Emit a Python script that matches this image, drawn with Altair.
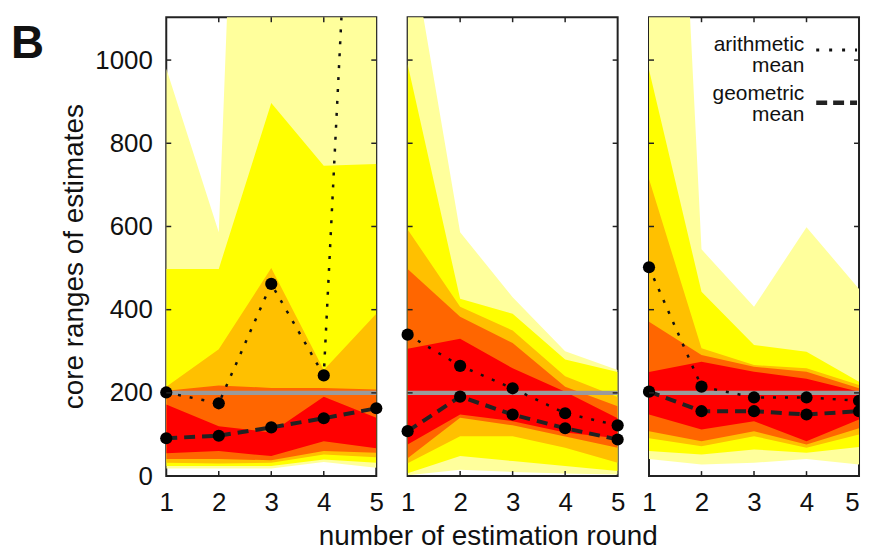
import altair as alt
import pandas as pd

rounds = [1, 2, 3, 4, 5]
band_names = ["pale", "yellow", "orange", "darkorange", "red"]
band_colors = ["#FFFF9C", "#FFFF00", "#FFC000", "#FF6600", "#FF0000"]
true_value = 200
y_ticks = [0, 200, 400, 600, 800, 1000]
inner_x_ticks = [2, 3, 4]
y_max = 1103

# ---- panel 1 ----
p1_pale_lo = [18, 18, 18, 34, 20]
p1_pale_hi = [980, 586, 3900, 4000, 4000]
p1_yellow_lo = [24, 24, 24, 40, 32]
p1_yellow_hi = [498, 498, 897, 746, 750]
p1_orange_lo = [32, 30, 32, 52, 45]
p1_orange_hi = [215, 305, 500, 255, 390]
p1_darkorange_lo = [41, 41, 38, 60, 56]
p1_darkorange_hi = [205, 218, 212, 212, 208]
p1_red_lo = [55, 60, 48, 84, 67]
p1_red_hi = [172, 120, 105, 191, 140]
p1_arith = [201, 175, 462, 242, 2800]
p1_geom = [91, 97, 117, 139, 163]

# ---- panel 2 ----
p2_pale_lo = [2, 15, 10, 6, 4]
p2_pale_hi = [1325, 586, 430, 300, 255]
p2_yellow_lo = [7, 48, 36, 24, 12]
p2_yellow_hi = [990, 426, 390, 280, 250]
p2_orange_lo = [31, 96, 96, 68, 32]
p2_orange_hi = [593, 407, 350, 240, 190]
p2_darkorange_lo = [43, 140, 122, 95, 68]
p2_darkorange_hi = [498, 383, 320, 215, 168]
p2_red_lo = [76, 148, 132, 105, 91]
p2_red_hi = [306, 330, 259, 203, 139]
p2_arith = [340, 265, 211, 151, 122]
p2_geom = [108, 191, 148, 115, 88]

# ---- panel 3 ----
p3_pale_lo = [41, 28, 32, 41, 28]
p3_pale_hi = [3100, 545, 407, 598, 450]
p3_yellow_lo = [60, 52, 64, 56, 70]
p3_yellow_hi = [977, 443, 315, 299, 227]
p3_orange_lo = [91, 72, 96, 68, 100]
p3_orange_hi = [714, 307, 267, 259, 219]
p3_darkorange_lo = [108, 84, 108, 76, 115]
p3_darkorange_hi = [371, 291, 263, 251, 211]
p3_red_lo = [148, 112, 132, 84, 136]
p3_red_hi = [250, 275, 251, 234, 203]
p3_arith = [502, 215, 189, 189, 181]
p3_geom = [203, 156, 156, 148, 156]

panel_label = "B"
y_title = "core ranges of estimates"
x_title = "number of estimation round"
legend_arith = ["arithmetic", "mean"]
legend_geom = ["geometric", "mean"]

FONT = "Liberation Sans"
W, H = 211, 461


def band_frame(lows, highs):
    rows = []
    for name, lo, hi in zip(band_names, lows, highs):
        for r, a, b in zip(rounds, lo, hi):
            rows.append({"round": r, "band": name, "lo": a, "hi": b})
    return pd.DataFrame(rows)


def mean_frame(arith, geom):
    rows = []
    for r, a, g in zip(rounds, arith, geom):
        rows.append({"round": r, "kind": "arith", "v": a})
        rows.append({"round": r, "kind": "geom", "v": g})
    return pd.DataFrame(rows)


def xenc(field="round:Q", last_right=False):
    if last_right:
        lab_align = {"condition": {"test": "datum.value == 5", "value": "right"},
                     "value": "center"}
    else:
        lab_align = "center"
    return alt.X(field, scale=alt.Scale(domain=[1, 5], nice=False, zero=False),
                 axis=alt.Axis(values=rounds, format="d", title=None, grid=False,
                               ticks=False, domain=False, labelFlush=False,
                               labelAlign=lab_align,
                               labelFontSize=26, labelFont=FONT, labelColor="#111",
                               labelPadding=14))


def yenc(field, show):
    if show:
        ax = alt.Axis(values=y_ticks, format="d", title=y_title, grid=False,
                      ticks=False, domain=False, labelFontSize=26, labelFont=FONT,
                      labelColor="#111", labelPadding=14, titleFontSize=28,
                      titleFont=FONT, titleFontWeight="normal", titleColor="#111",
                      titlePadding=6, titleY=240)
    else:
        ax = alt.Axis(values=y_ticks, title=None, grid=False, ticks=False,
                      domain=False, labels=False)
    return alt.Y(field, scale=alt.Scale(domain=[0, y_max], nice=False, zero=False), axis=ax)


def panel(lows, highs, arith, geom, show_y=False, extra=None, last_panel=False):
    bdf = band_frame(lows, highs)
    mdf = mean_frame(arith, geom)

    def X(field="round:Q"):
        return xenc(field, last_right=last_panel)

    layers = []
    for name, col in zip(band_names, band_colors):
        layers.append(
            alt.Chart(bdf).transform_filter(alt.datum.band == name)
            .mark_area(clip=True, color=col, opacity=1)
            .encode(x=X(), y=yenc("lo:Q", show_y), y2="hi:Q")
        )
    layers.append(
        alt.Chart(pd.DataFrame({"v": [true_value]}))
        .mark_rule(color="#9a9a9a", strokeWidth=4.5)
        .encode(y=yenc("v:Q", show_y))
    )
    layers.append(
        alt.Chart(mdf).transform_filter(alt.datum.kind == "arith")
        .mark_line(clip=True, color="#111", strokeWidth=2.5, strokeDash=[3, 9])
        .encode(x=X(), y=yenc("v:Q", show_y))
    )
    layers.append(
        alt.Chart(mdf).transform_filter(alt.datum.kind == "geom")
        .mark_line(clip=True, color="#222", strokeWidth=4, strokeDash=[11, 7])
        .encode(x=X(), y=yenc("v:Q", show_y))
    )
    if last_panel:
        layers.append(
            alt.Chart(mdf).transform_filter((alt.datum.v <= y_max) & (alt.datum["round"] < 5))
            .mark_circle(size=150, color="#000", opacity=1)
            .encode(x=X(), y=yenc("v:Q", show_y))
        )
        layers.append(
            alt.Chart(mdf).transform_filter((alt.datum.v <= y_max) & (alt.datum["round"] == 5))
            .mark_circle(size=150, color="#000", opacity=1, clip=True)
            .encode(x=X(), y=yenc("v:Q", show_y))
        )
    else:
        layers.append(
            alt.Chart(mdf).transform_filter(alt.datum.v <= y_max)
            .mark_circle(size=150, color="#000", opacity=1)
            .encode(x=X(), y=yenc("v:Q", show_y))
        )
    tdf = pd.DataFrame({"t": y_ticks})
    layers.append(alt.Chart(tdf).mark_rule(color="#222", strokeWidth=1.5)
                  .encode(y=yenc("t:Q", show_y), x=alt.value(0), x2=alt.value(5)))
    layers.append(alt.Chart(tdf).mark_rule(color="#222", strokeWidth=1.5)
                  .encode(y=yenc("t:Q", show_y), x=alt.value(W - 5), x2=alt.value(W)))
    xdf = pd.DataFrame({"r": inner_x_ticks})
    layers.append(alt.Chart(xdf).mark_rule(color="#222", strokeWidth=1.5)
                  .encode(x=X("r:Q"), y=alt.value(0), y2=alt.value(5)))
    layers.append(alt.Chart(xdf).mark_rule(color="#222", strokeWidth=1.5)
                  .encode(x=X("r:Q"), y=alt.value(H - 5), y2=alt.value(H)))
    if extra:
        layers.extend(extra)
    return alt.layer(*layers).properties(width=W, height=H)


one = pd.DataFrame({"k": [0]})

b_label = (alt.Chart(one).mark_text(text=panel_label, font=FONT, fontSize=46,
                                     fontWeight="bold", align="left", baseline="alphabetic",
                                     color="#111")
           .encode(x=alt.value(-156), y=alt.value(41)))

x_title_mark = (alt.Chart(one).mark_text(text=x_title, font=FONT, fontSize=28,
                                         align="center", baseline="alphabetic", color="#111")
                .encode(x=alt.value(81), y=alt.value(530)))

legend_marks = [
    alt.Chart(one).mark_text(text=legend_arith, font=FONT, fontSize=21, lineHeight=21,
                             align="right", baseline="alphabetic", color="#111")
    .encode(x=alt.value(156), y=alt.value(34)),
    alt.Chart(one).mark_text(text=legend_geom, font=FONT, fontSize=21, lineHeight=21,
                             align="right", baseline="alphabetic", color="#111")
    .encode(x=alt.value(156), y=alt.value(83)),
    alt.Chart(one).mark_rule(color="#111", strokeWidth=3, strokeDash=[3, 10])
    .encode(x=alt.value(168), x2=alt.value(209), y=alt.value(33)),
    alt.Chart(one).mark_rule(color="#222", strokeWidth=4.5, strokeDash=[11, 6])
    .encode(x=alt.value(168), x2=alt.value(209), y=alt.value(86)),
]

lows1 = [p1_pale_lo, p1_yellow_lo, p1_orange_lo, p1_darkorange_lo, p1_red_lo]
highs1 = [p1_pale_hi, p1_yellow_hi, p1_orange_hi, p1_darkorange_hi, p1_red_hi]
lows2 = [p2_pale_lo, p2_yellow_lo, p2_orange_lo, p2_darkorange_lo, p2_red_lo]
highs2 = [p2_pale_hi, p2_yellow_hi, p2_orange_hi, p2_darkorange_hi, p2_red_hi]
lows3 = [p3_pale_lo, p3_yellow_lo, p3_orange_lo, p3_darkorange_lo, p3_red_lo]
highs3 = [p3_pale_hi, p3_yellow_hi, p3_orange_hi, p3_darkorange_hi, p3_red_hi]

c1 = panel(lows1, highs1, p1_arith, p1_geom, show_y=True, extra=[b_label])
c2 = panel(lows2, highs2, p2_arith, p2_geom, extra=[x_title_mark])
c3 = panel(lows3, highs3, p3_arith, p3_geom, extra=legend_marks, last_panel=True)

chart = (alt.hconcat(c1, c2, c3, spacing=31.5, bounds="flush")
         .resolve_scale(x="independent", y="independent")
         .properties(padding={"left": 2, "top": 6, "right": 0, "bottom": 0},
                     background="white")
         .configure_view(stroke="#222", strokeWidth=2))

chart.save("out.html", embed_options={"renderer": "svg", "actions": False})
